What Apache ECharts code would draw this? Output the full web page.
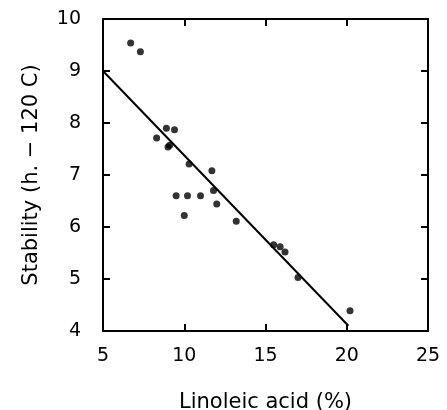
<!DOCTYPE html>
<html>
<head>
<meta charset="utf-8">
<script src="https://cdn.jsdelivr.net/npm/echarts@6/dist/echarts.min.js"></script>
<style>
html,body{margin:0;padding:0;background:#fff;}
#main{width:447px;height:410px;}
</style>
</head>
<body>
<div id="main"></div>
<script>
// points
var linoleic  = [6.7, 7.3, 8.3, 8.9, 9.4, 9.0, 9.1, 10.3, 11.7, 11.8, 9.5, 10.2, 11.0, 12.0, 10.0, 13.2, 15.5, 15.9, 16.2, 17.0, 20.2];
var stability = [9.54, 9.37, 7.71, 7.90, 7.87, 7.54, 7.57, 7.21, 7.08, 6.70, 6.60, 6.60, 6.60, 6.44, 6.22, 6.11, 5.66, 5.62, 5.52, 5.03, 4.39];
// regression line ends
var fitX = [5, 20.1];
var fitY = [9.0, 4.1];

var xTicks = [5, 10, 15, 20, 25];
var yTicks = [4, 5, 6, 7, 8, 9, 10];

var pts = [];
for(var i = 0; i<linoleic.length;i++){
    pts.push([linoleic[i], stability[i]]);
}
var fit = [];
for(var j = 0; j<fitX.length;j++){
    fit.push([fitX[j], fitY[j]]);
}

var font = 'DejaVu Sans';
var lineStyle = {color:'#000', width:2};
var myChart = echarts.init(document.getElementById('main'));
var option = {
    animation:false,
    backgroundColor:'#fff',
    grid:{left:103, right:19, top:19, bottom:79, containLabel:false, outerBoundsMode:'none'},
    xAxis:[{
        type:'value', min:xTicks[0], max:xTicks[xTicks.length-1], interval:5,
        name:'Linoleic acid (%)', nameLocation:'middle', nameGap:61,
        nameTextStyle:{fontFamily:font, fontSize:21, color:'#000'},
        axisLine:{lineStyle:lineStyle},
        axisTick:{inside:true, length:7, lineStyle:lineStyle},
        axisLabel:{fontFamily:font, fontSize:19, color:'#000', margin:16},
        splitLine:{show:false}
    },{
        type:'value', position:'top', min:5, max:25, interval:5,
        axisLine:{show:true, lineStyle:lineStyle},
        axisTick:{inside:true, length:7, lineStyle:lineStyle},
        axisLabel:{show:false},
        splitLine:{show:false}
    }],
    yAxis:[{
        type:'value', min:yTicks[0], max:yTicks[yTicks.length-1], interval:1,
        name:'Stability (h. \u2212 120 C)', nameLocation:'middle', nameGap:61,
        nameTextStyle:{fontFamily:font, fontSize:21, color:'#000'},
        axisLine:{lineStyle:lineStyle},
        axisTick:{inside:true, length:7, lineStyle:lineStyle},
        axisLabel:{fontFamily:font, fontSize:19, color:'#000', margin:22},
        splitLine:{show:false}
    },{
        type:'value', position:'right', min:4, max:10, interval:1,
        axisLine:{show:true, lineStyle:lineStyle},
        axisTick:{inside:true, length:7, lineStyle:lineStyle},
        axisLabel:{show:false},
        splitLine:{show:false}
    }],
    series:[
        {
            type:'line',
            data:fit,
            showSymbol:false,
            lineStyle:{color:'#000', width:2},
            z:2
        },
        {
            type:'scatter',
            data:pts,
            symbol:'circle',
            symbolSize:7,
            itemStyle:{color:'#000'},
            z:3
        }
    ]
};
myChart.setOption(option,true);
</script>
</body>
</html>
